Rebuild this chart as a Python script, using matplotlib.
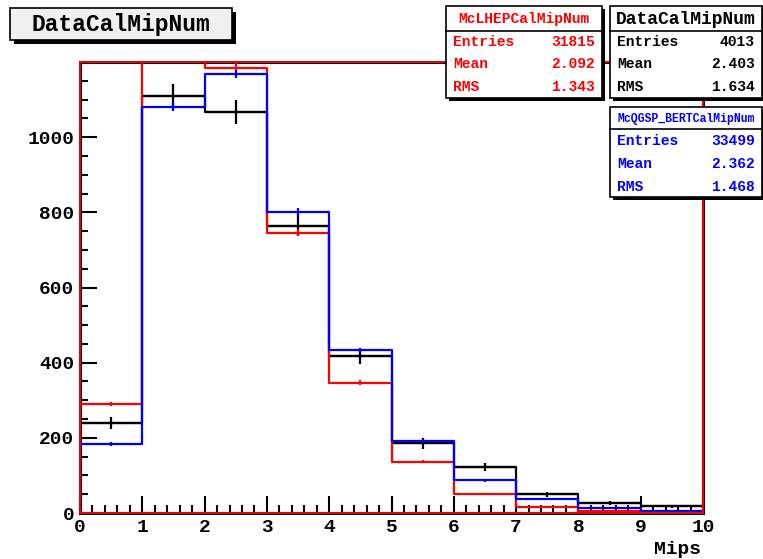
import numpy as np
import matplotlib.pyplot as plt
from matplotlib.patches import Rectangle

plt.rcParams['font.family'] = ['Liberation Mono', 'DejaVu Sans Mono']
plt.rcParams['font.weight'] = 'bold'

# bin edges in Mips
edges = np.arange(0, 11, 1)
centers = edges[:-1] + 0.5

# histogram contents (MC normalised to data)
data_counts = [240, 1109, 1067, 764, 418, 185, 123, 50, 27, 18]
lhep_counts = [290, 1235, 1185, 746, 347, 136, 51, 15, 5, 1]
qgsp_counts = [184, 1081, 1168, 801, 433, 192, 87, 37, 14, 6]

# stat box numbers
data_stats = ['4013', '2.403', '1.634']
lhep_stats = ['31815', '2.092', '1.343']
qgsp_stats = ['33499', '2.362', '1.468']
stat_names = ['Entries', 'Mean', 'RMS']

W, H = 763, 559
fig = plt.figure(figsize=(W / 100, H / 100), dpi=100)
ax = fig.add_axes([80 / W, 1 - 513 / H, 623 / W, 451 / H])


def draw_hist(counts, col, err, xerr_on, z):
    counts = np.array(counts, float)
    ys = np.concatenate([[0], counts, [0]])
    xs = np.concatenate([[edges[0]], edges])
    ax.step(xs, ys, where='post', color=col, lw=1.6, zorder=z)
    ax.errorbar(centers, counts, yerr=err,
                xerr=0.5 if xerr_on else None,
                fmt='none', ecolor=col, elinewidth=1.6, capsize=0, zorder=z)


d = np.array(data_counts, float)
draw_hist(data_counts, 'black', np.sqrt(d), True, 3)
sc_l = 4013 / 31815
draw_hist(lhep_counts, '#ff0000', np.sqrt(np.array(lhep_counts) * sc_l), False, 4)
sc_q = 4013 / 33499
draw_hist(qgsp_counts, '#0000ff', np.sqrt(np.array(qgsp_counts) * sc_q), False, 5)

ax.set_xlim(0, 10)
ax.set_ylim(0, 1200)
ax.set_xticks(np.arange(0, 11, 1))
ax.set_xticks(np.arange(0, 10.01, 0.2), minor=True)
ax.set_yticks(np.arange(0, 1001, 200))
ax.set_yticks(np.arange(0, 1200, 50), minor=True)
ax.tick_params(which='both', direction='in', top=False, right=False,
               labelsize=14, width=1.5)
ax.tick_params(which='major', length=12, pad=4)
ax.tick_params(which='minor', length=6)
for lab in ax.get_xticklabels() + ax.get_yticklabels():
    lab.set_fontweight('bold')
for s in ax.spines.values():
    s.set_linewidth(2.2)
    s.set_color('black')
# red frame from the MC histogram
ax.add_patch(Rectangle((0, 0), 10, 1200, fill=False, ec='#ff0000', lw=1.3,
                       zorder=6, clip_on=False))

# overlay in pixel coordinates for the boxes
ov = fig.add_axes([0, 0, 1, 1], zorder=10)
ov.set_xlim(0, W)
ov.set_ylim(H, 0)
ov.axis('off')
ov.patch.set_alpha(0)


def box(x0, y0, x1, y1, fc='white', sh=3):
    ov.add_patch(Rectangle((x0 + sh, y0 + sh), x1 - x0, y1 - y0, fc='black', ec='none'))
    ov.add_patch(Rectangle((x0, y0), x1 - x0, y1 - y0, fc=fc, ec='black', lw=1.2))


# title
box(10, 8, 232, 40, fc='#f0f0f0', sh=4)
ov.text(121, 24, 'DataCalMipNum', ha='center', va='center', fontsize=16.5,
        fontweight='bold')


def stat_box(x0, y0, x1, y1, title, tsize, vals, col, ydiv, rows):
    box(x0, y0, x1, y1)
    ov.plot([x0, x1], [ydiv, ydiv], color='black', lw=1.2)
    ov.text((x0 + x1) / 2, (y0 + ydiv) / 2 + 1, title, ha='center', va='center',
            fontsize=tsize, color=col, fontweight='bold')
    for nm, v, yy in zip(stat_names, vals, rows):
        ov.text(x0 + 7, yy, nm, ha='left', va='center', fontsize=10.5,
                color=col, fontweight='bold')
        ov.text(x1 - 7, yy, v, ha='right', va='center', fontsize=10.5,
                color=col, fontweight='bold')


stat_box(446, 6, 602, 98, 'McLHEPCalMipNum', 10.5, lhep_stats, '#ff0000', 31, [42, 64, 87])
stat_box(610, 6, 762, 98, 'DataCalMipNum', 13, data_stats, 'black', 31, [42, 64, 87])
stat_box(610, 107, 762, 197, 'McQGSP_BERTCalMipNum', 8.3, qgsp_stats, '#0000ff', 129,
         [141, 164, 187])

ov.text(701, 550, 'Mips', ha='right', va='center', fontsize=14, fontweight='bold')

fig.savefig('out.png', dpi=100)
